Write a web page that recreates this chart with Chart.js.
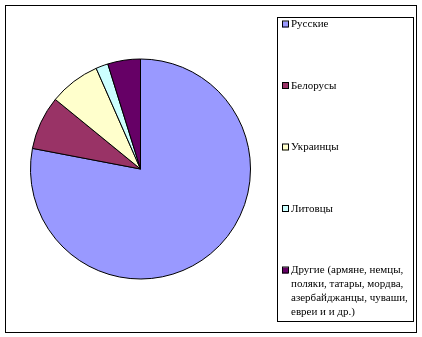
<!DOCTYPE html>
<html>
<head>
<meta charset="utf-8">
<script src="https://cdn.jsdelivr.net/npm/chart.js@4"></script>
<style>
  html, body { margin: 0; padding: 0; background: #ffffff; }
  #wrap { width: 422px; height: 337px; }
</style>
</head>
<body>
<div id="wrap"><canvas id="chartNations"></canvas></div>
<script>
// Национальный состав населения, %
var nations = ['Русские', 'Белорусы', 'Украинцы', 'Литовцы',
    'Другие (армяне, немцы, поляки, татары, мордва, азербайджанцы, чуваши, евреи и и др.)'];
var shares = [78.0, 7.9, 7.5, 1.8, 4.8];
var sliceColors = ['#9999FF', '#993366', '#FFFFCC', '#CCFFFF', '#660066'];

var FONT = '11px "Liberation Serif", "Times New Roman", serif';

// Frame around the whole chart and the boxed legend on the right
var frameAndLegend = {
    id: 'frameAndLegend',
    afterDraw: function(chart) {
        var ctx = chart.ctx;
        ctx.save();
        ctx.strokeStyle = '#000000';
        ctx.lineWidth = 1;
        ctx.strokeRect(5.5, 5.5, 411, 327);
        ctx.strokeRect(277.5, 17.5, 136, 304);

        ctx.font = FONT;
        ctx.textBaseline = 'middle';
        ctx.fillStyle = '#000000';
        var labels = chart.data.labels;
        var colors = chart.data.datasets[0].backgroundColor;
        var maxWidth = 122;
        for (var i = 0; i < labels.length; i++) {
            var y = 24.5 + i * 61.5;
            ctx.fillStyle = colors[i];
            ctx.fillRect(282, y - 3, 6, 6);
            ctx.strokeStyle = '#000000';
            ctx.strokeRect(282.5, y - 3.5, 6, 6);

            // simple word wrap
            var words = labels[i].split(' ');
            var lines = [];
            var line = '';
            words.forEach(function(w) {
                var test = line ? line + ' ' + w : w;
                if (line && ctx.measureText(test).width > maxWidth) {
                    lines.push(line);
                    line = w;
                } else {
                    line = test;
                }
            });
            lines.push(line);
            ctx.fillStyle = '#000000';
            lines.forEach(function(l, k) {
                ctx.fillText(l, k === 0 ? 291 : 291, y + k * 14);
            });
        }
        ctx.restore();
    }
};

var chart = new Chart(document.querySelector('#chartNations').getContext('2d'), {
    type: 'pie',
    data: {
        labels: nations,
        datasets: [{
            data: shares,
            backgroundColor: sliceColors,
            borderColor: '#000000',
            borderWidth: 1
        }]
    },
    options: {
        responsive: true,
        maintainAspectRatio: false,
        animation: false,
        layout: {
            padding: { left: 30, right: 171, top: 58, bottom: 57 }
        },
        plugins: {
            legend: { display: false },
            tooltip: { enabled: false }
        }
    },
    plugins: [frameAndLegend]
});
</script>
</body>
</html>
